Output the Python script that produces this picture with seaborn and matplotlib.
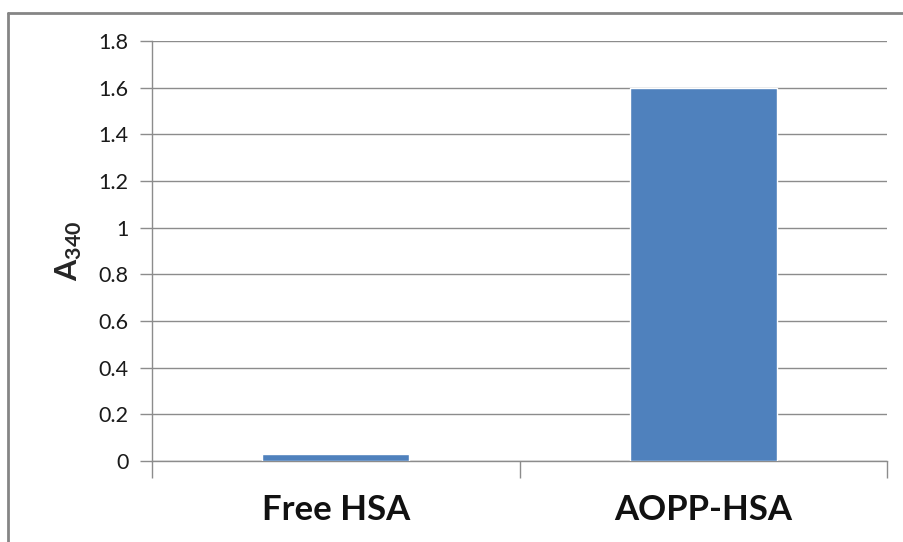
import matplotlib
matplotlib.use("Agg")
import matplotlib.pyplot as plt
import pandas as pd
import seaborn as sns
from matplotlib.lines import Line2D

categories = ["Free HSA", "AOPP-HSA"]
a340 = [0.028, 1.6]
y_ticks = [0.0, 0.2, 0.4, 0.6, 0.8, 1.0, 1.2, 1.4, 1.6, 1.8]
y_tick_labels = ["0", "0.2", "0.4", "0.6", "0.8", "1", "1.2", "1.4", "1.6", "1.8"]

BAR = "#4F81BD"
GRID = "#8C8C8C"

sns.set_theme(style="white")
plt.rcParams["font.family"] = ["Lato", "DejaVu Sans"]
plt.rcParams["mathtext.fontset"] = "custom"
plt.rcParams["mathtext.bf"] = "Lato:bold"
plt.rcParams["mathtext.rm"] = "Lato"

df = pd.DataFrame({"sample": categories, "a340": a340})

fig = plt.figure(figsize=(9.04, 5.42), dpi=100)
ax = fig.add_axes([152 / 904, 1 - 461 / 542, (887 - 152) / 904, (461 - 41) / 542])

sns.barplot(data=df, x="sample", y="a340", color=BAR, width=0.4,
            saturation=1, ax=ax, zorder=3)

ax.set_ylim(0, 1.8)
ax.set_xlim(-0.5, 1.5)
ax.set_yticks(y_ticks)
ax.set_yticklabels(y_tick_labels, fontsize=15.5, color="#1a1a1a")
ax.yaxis.grid(True, color=GRID, linewidth=1)
ax.set_axisbelow(True)
ax.tick_params(axis="y", length=9, width=1, color=GRID, pad=8, left=True)

# category boundaries as major ticks, labels on minor ticks
ax.set_xticks([-0.5, 0.5, 1.5])
ax.set_xticklabels([])
ax.set_xticks([0, 1], minor=True)
ax.set_xticklabels(categories, minor=True, fontsize=25, fontweight="bold",
                   color="#111111")
ax.tick_params(axis="x", which="major", length=12, width=1, color=GRID,
               bottom=True, direction="out")
ax.tick_params(axis="x", which="minor", length=0, pad=24)

for side in ["top", "right"]:
    ax.spines[side].set_visible(False)
for side in ["left", "bottom"]:
    ax.spines[side].set_color(GRID)
    ax.spines[side].set_linewidth(1)

ax.set_xlabel("")
ax.set_ylabel(r"$\mathbf{A_{340}}$", fontsize=22, labelpad=10)

# outer chart frame (left and top edges visible)
fig.add_artist(Line2D([8 / 904, 8 / 904], [0, 1 - 13 / 542],
                      transform=fig.transFigure, color="#858585", linewidth=2))
fig.add_artist(Line2D([8 / 904, 1], [1 - 13 / 542, 1 - 13 / 542],
                      transform=fig.transFigure, color="#858585", linewidth=2))

fig.savefig("out.png", dpi=100, facecolor="white")
